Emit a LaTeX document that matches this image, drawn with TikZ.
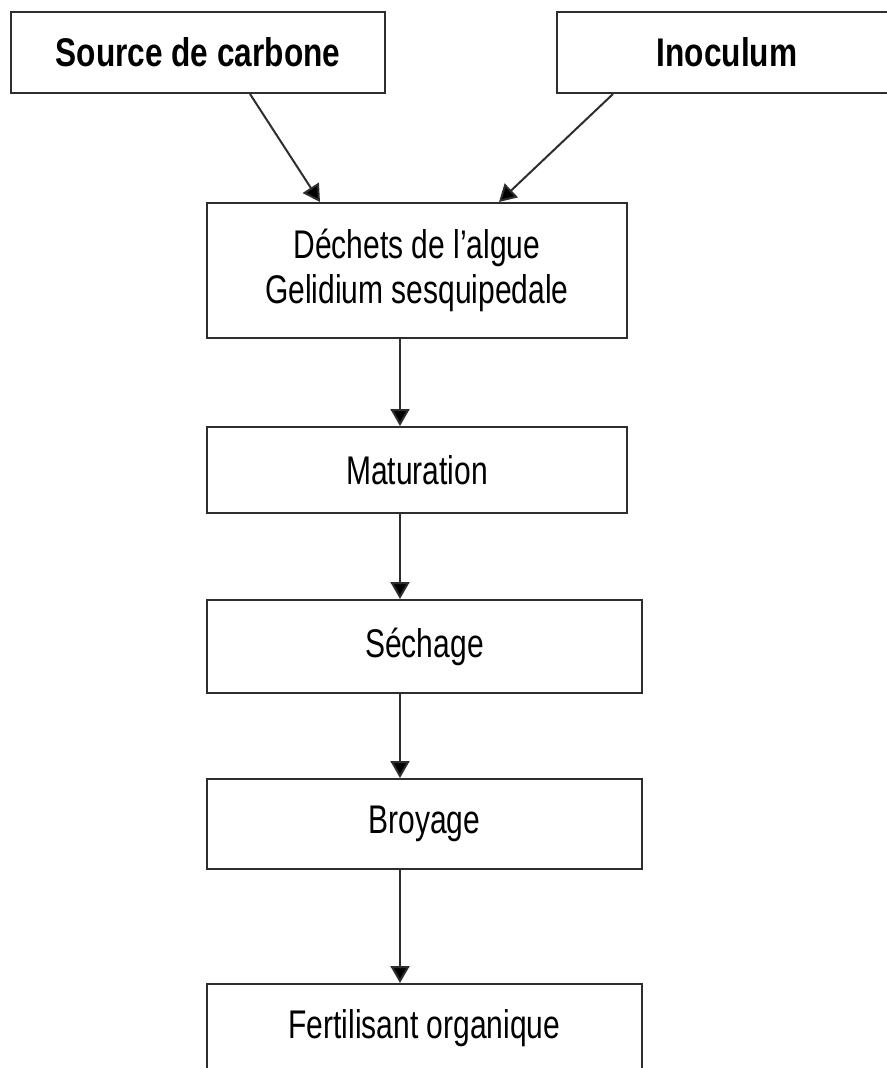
\documentclass[tikz,border=0pt]{standalone}
\usepackage{fontspec}
\setmainfont{Liberation Sans}[FakeStretch=0.75]
\newfontfamily\headfont{Liberation Sans}[FakeStretch=0.79]
\usetikzlibrary{arrows.meta}
\definecolor{linec}{HTML}{2E2E2E}
\begin{document}
\begin{tikzpicture}[x=1pt,y=-1pt,
  box/.style={draw=linec, line width=2pt, minimum width=420pt, inner sep=0pt,
    align=center, fill=white, font=\fontsize{40}{45}\selectfont},
  lowbox/.style={box, minimum width=435pt},
  topbox/.style={box, font=\fontsize{40}{45}\headfont\bfseries},
  arr/.style={draw=linec, line width=2pt, -{Triangle[width=19pt,length=17pt,fill=black]}}]
\useasboundingbox (0,0) rectangle (886,1068);
\node[topbox, minimum width=374pt, minimum height=81pt] (src) at (198,52.5) {Source de carbone};
\node[topbox, minimum width=340pt, minimum height=81pt] (ino) at (727,52.5) {Inoculum};
\node[box, minimum height=135pt] (dech) at (417,270.5) {Déchets de l’algue\\Gelidium sesquipedale};
\node[box, minimum height=86pt] (mat) at (417,470) {Maturation};
\node[lowbox, minimum height=93pt] (sech) at (424.5,646.5) {Séchage};
\node[lowbox, minimum height=90pt] (broy) at (424.5,824) {Broyage};
\node[lowbox, minimum height=88pt] (fert) at (424.5,1028) {Fertilisant organique};
\draw[arr] ([xshift=52pt]src.south) -- ([xshift=-97pt]dech.north);
\draw[arr] ([xshift=-114pt]ino.south) -- ([xshift=82pt]dech.north);
\draw[arr] ([xshift=-17pt]dech.south) -- ([xshift=-17pt]mat.north);
\draw[arr] ([xshift=-17pt]mat.south) -- ([xshift=-24.5pt]sech.north);
\draw[arr] ([xshift=-24.5pt]sech.south) -- ([xshift=-24.5pt]broy.north);
\draw[arr] ([xshift=-24.5pt]broy.south) -- ([xshift=-24.5pt]fert.north);
\end{tikzpicture}
\end{document}
